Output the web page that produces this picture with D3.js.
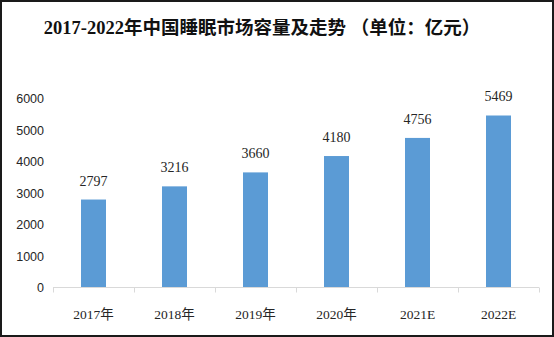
<!DOCTYPE html>
<html>
<head>
<meta charset="utf-8">
<script src="https://cdn.jsdelivr.net/npm/d3@7"></script>
<style>
  html, body { margin: 0; padding: 0; background: #fff; }
  svg { display: block; }
</style>
</head>
<body>
<div id="chart"></div>
<script>
// 中国睡眠市场容量（亿元）
const categories = ["2017年", "2018年", "2019年", "2020年", "2021E", "2022E"];
const values = [2797, 3216, 3660, 4180, 4756, 5469];
const yTicks = [0, 1000, 2000, 3000, 4000, 5000, 6000];
const title = "2017-2022年中国睡眠市场容量及走势 （单位：亿元）";

const W = 554, H = 337;
const plotBottom = 287.5;

const svg = d3.select("#chart").append("svg")
  .attr("width", W).attr("height", H);

svg.append("rect")
  .attr("x", 1).attr("y", 1)
  .attr("width", W - 2).attr("height", H - 2)
  .attr("fill", "#fff").attr("stroke", "#1a1a1a").attr("stroke-width", 2);

svg.append("text")
  .attr("x", 262).attr("y", 34)
  .attr("text-anchor", "middle")
  .attr("font-family", "'Liberation Serif', 'Noto Sans CJK SC', serif")
  .attr("font-weight", "bold")
  .attr("font-size", 18.5)
  .attr("fill", "#111")
  .text(title);

const x = d3.scaleBand()
  .domain(categories)
  .range([53, 539])
  .paddingInner(0).paddingOuter(0);

const y = d3.scaleLinear()
  .domain([0, 6000])
  .range([plotBottom, 98.8]);

const barW = 25;

// y axis labels (no axis line)
const yAxis = d3.axisLeft(y).tickValues(yTicks).tickSize(0).tickPadding(0)
  .tickFormat(d3.format("d"));
const gy = svg.append("g").attr("transform", "translate(44,0)").call(yAxis);
gy.select(".domain").remove();
gy.selectAll("text")
  .attr("font-family", "'Liberation Sans', Arial, sans-serif")
  .attr("font-size", 12.5)
  .attr("fill", "#262626");

// bars
svg.append("g").selectAll("rect")
  .data(values)
  .join("rect")
  .attr("x", (d, i) => x(categories[i]) + x.bandwidth() / 2 - barW / 2)
  .attr("y", d => y(d))
  .attr("width", barW)
  .attr("height", d => y(0) - y(d))
  .attr("fill", "#5B9BD5");

// value labels
svg.append("g").selectAll("text")
  .data(values)
  .join("text")
  .attr("x", (d, i) => x(categories[i]) + x.bandwidth() / 2)
  .attr("y", d => y(d) - 14)
  .attr("text-anchor", "middle")
  .attr("font-family", "'Liberation Serif', serif")
  .attr("font-size", 14)
  .attr("fill", "#262626")
  .text(d => d);

// x axis: baseline with ticks between categories
const xAxisG = svg.append("g");
xAxisG.append("line")
  .attr("x1", 53).attr("x2", 539)
  .attr("y1", plotBottom).attr("y2", plotBottom)
  .attr("stroke", "#D9D9D9").attr("stroke-width", 1);
const edges = categories.map(c => x(c)).concat([x.range()[1]]);
xAxisG.selectAll("line.tick")
  .data(edges)
  .join("line")
  .attr("class", "tick")
  .attr("x1", d => Math.round(d) + 0.5).attr("x2", d => Math.round(d) + 0.5)
  .attr("y1", plotBottom).attr("y2", plotBottom + 5)
  .attr("stroke", "#D9D9D9").attr("stroke-width", 1);

xAxisG.selectAll("text")
  .data(categories)
  .join("text")
  .attr("x", d => x(d) + x.bandwidth() / 2)
  .attr("y", 319)
  .attr("text-anchor", "middle")
  .attr("font-family", "'Liberation Serif', 'Noto Sans CJK SC', serif")
  .attr("font-size", 13.5)
  .attr("fill", "#262626")
  .text(d => d);
</script>
</body>
</html>
